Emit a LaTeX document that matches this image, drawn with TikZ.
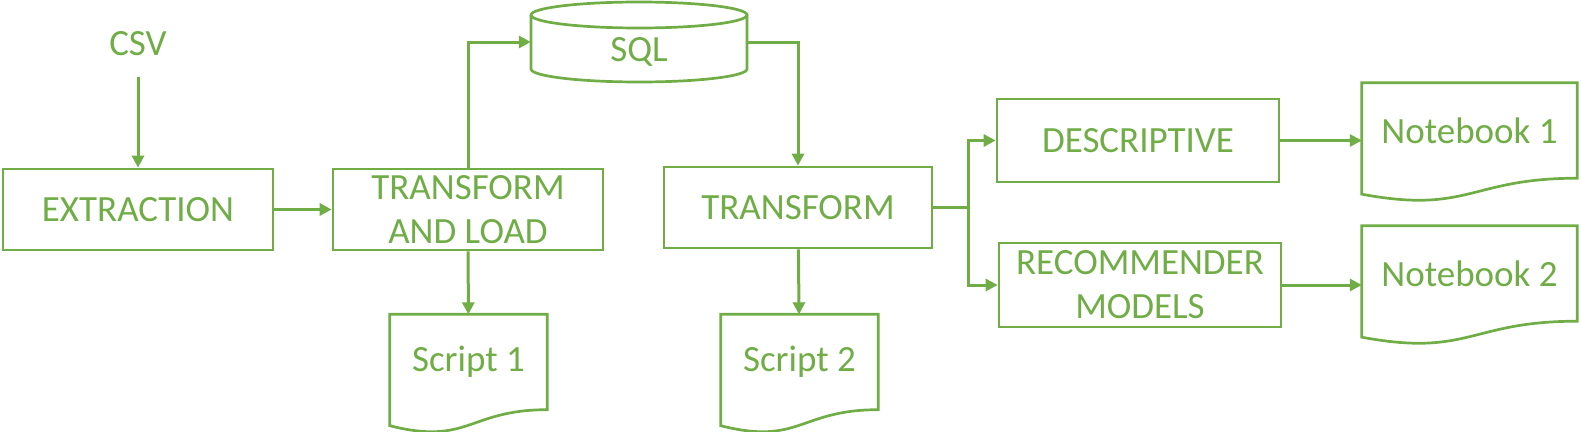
\documentclass[tikz,border=0pt]{standalone}
\usepackage{fontspec}
\setmainfont{Carlito}
\usetikzlibrary{arrows.meta}
\definecolor{leaf}{HTML}{70AD47}
\tikzset{
  every node/.style = {text = leaf, font = \fontsize{37}{44}\selectfont},
  box/.style = {draw = leaf, line width = 2.7pt, align = center, inner sep = 0pt},
  doc/.style = {minimum width = #1, minimum height = 95pt, inner sep = 0pt},
  link/.style = {draw = leaf, line width = 3pt, -{Triangle[length = 12pt, width = 12pt]}}
}
\newcommand{\docpaper}[1]{%
  \draw[draw = leaf, line width = 2.7pt] (#1.south east) -- (#1.north east) -- (#1.north west)
    -- ([yshift = -16pt]#1.south west) .. controls ([yshift = -36pt]#1.south) and (#1.south) .. cycle;}
\begin{document}
\begin{tikzpicture}[x = 1pt, y = -1pt]
\useasboundingbox (0,0) rectangle (1581,431);
\node at (138,44) (csv) {CSV};
\node[box, minimum width = 270pt, minimum height = 81pt] at (138,209.5) (extract) {EXTRACTION};
\node[box, minimum width = 270pt, minimum height = 81pt] at (468,209.5) (tl) {TRANSFORM\\AND LOAD};
\node[box, minimum width = 268pt, minimum height = 81pt] at (798,207.5) (trans) {TRANSFORM};
\node[box, minimum width = 282pt, minimum height = 83pt] at (1138,140.5) (desc) {DESCRIPTIVE};
\node[box, minimum width = 282pt, minimum height = 84pt] at (1140,285) (rec) {RECOMMENDER\\MODELS};
% database
\node[minimum width = 216pt, minimum height = 54pt, inner sep = 0pt] at (639,42) (sql) {};
\node at (639,52) {SQL};
\draw[draw = leaf, line width = 2.7pt] (531,15) -- (531,69) arc[start angle = 180, end angle = 0, x radius = 108, y radius = 13] -- (747,15);
\draw[draw = leaf, line width = 2.7pt] (639,15) ellipse [x radius = 108, y radius = 13];
% documents
\node[doc = 157pt] at (468.5,362) (script1) {Script 1};
\node[doc = 157pt] at (799.5,362) (script2) {Script 2};
\node[doc = 215pt] at (1469.5,130.5) (nb1) {Notebook 1};
\node[doc = 215pt] at (1469.5,273.5) (nb2) {Notebook 2};
\docpaper{script1}
\docpaper{script2}
\docpaper{nb1}
\docpaper{nb2}
% flow
\draw[link, shorten <= 17pt] (csv) -- (extract);
\draw[link] (extract) -- (tl);
\draw[link] (tl.north) |- (sql.west);
\draw[link] (sql.east) -| (trans.north);
\draw[link] (tl) -- (script1);
\draw[link] (trans) -- (script2);
\draw[link] (trans.east) -- ++(35,0) |- (desc.west);
\draw[link] (trans.east) -- ++(35,0) |- (rec.west);
\draw[link] (desc.east) -- (desc.east -| nb1.west);
\draw[link] (rec.east) -- (rec.east -| nb2.west);
\end{tikzpicture}
\end{document}
